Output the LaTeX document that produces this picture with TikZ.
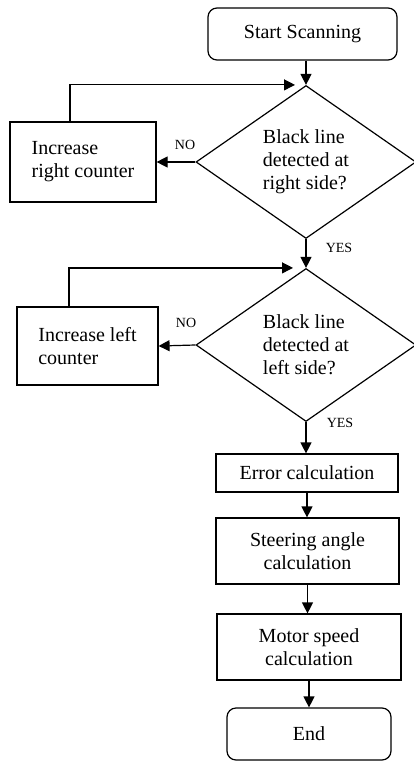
\documentclass[tikz,border=0pt]{standalone}
\usepackage{fontspec}
\setmainfont{Liberation Serif}
\usetikzlibrary{shapes.geometric,arrows.meta}
\begin{document}
\begin{tikzpicture}[x=1pt,y=-1pt,
  every node/.style={font=\fontsize{20}{23}\selectfont},
  box/.style={draw,line width=1.2pt,inner sep=0pt,align=center},
  term/.style={box,rounded corners=9pt},
  dec/.style={draw,diamond,aspect=1.43,line width=1.2pt,inner sep=0pt,minimum width=220pt,minimum height=153pt,align=left},
  lbl/.style={font=\fontsize{14}{16}\selectfont},
  arr/.style={line width=1.2pt,-{Triangle[width=11pt,length=11pt]}},
  ln/.style={line width=1.2pt}
]
\useasboundingbox (0,0) rectangle (414,762);

\node[term,minimum width=189pt,minimum height=52pt] (start) at (302.5,34) {Start Scanning};
\node[dec] (d1) at (306,162) {Black line\\detected at\\right side?};
\node[box,align=left,minimum width=146pt,minimum height=80pt] (b1) at (83,162) {Increase\\right counter};
\node[dec] (d2) at (306,345) {Black line\\detected at\\left side?};
\node[box,align=left,minimum width=141pt,minimum height=78pt] (b2) at (87.5,346) {Increase left\\counter};
\node[box,minimum width=182pt,minimum height=38pt] (err) at (307,473) {Error calculation};
\node[box,minimum width=183pt,minimum height=66pt] (steer) at (307.5,551) {Steering angle\\calculation};
\node[box,minimum width=184pt,minimum height=66pt] (motor) at (309,647) {Motor speed\\calculation};
\node[term,minimum width=164pt,minimum height=52pt] (end) at (309,734) {End};

\coordinate (l1) at ([xshift=-13pt]b1.north);
\coordinate (l2) at ([xshift=-18.5pt]b2.north);

\draw[arr] (start.south -| d1.north) -- (d1.north);
\draw[arr] (d1.west) -- (b1.east);
\draw[arr] (l1) |- ([xshift=-11pt]d1.north);
\draw[arr] (d1.south) -- (d2.north);
\draw[arr] (d2.west) -- (b2.east);
\draw[arr] (l2) |- ([xshift=-13pt]d2.north);
\draw[arr] (d2.south) -- (d2.south |- err.north);
\draw[arr] (steer.north -| err.south) ++(0,-26) -- (steer.north -| err.south);
\draw[arr] (steer.south) -- (steer.south |- motor.north);
\draw[arr] (end.north -| motor.south) ++(0,-28) -- (end.north -| motor.south);

\node[lbl] (no1) at (185,145) {NO};
\node[lbl] (yes1) at (339,248) {YES};
\node[lbl] (no2) at (186,323) {NO};
\node[lbl] (yes2) at (340,423) {YES};
\end{tikzpicture}
\end{document}
